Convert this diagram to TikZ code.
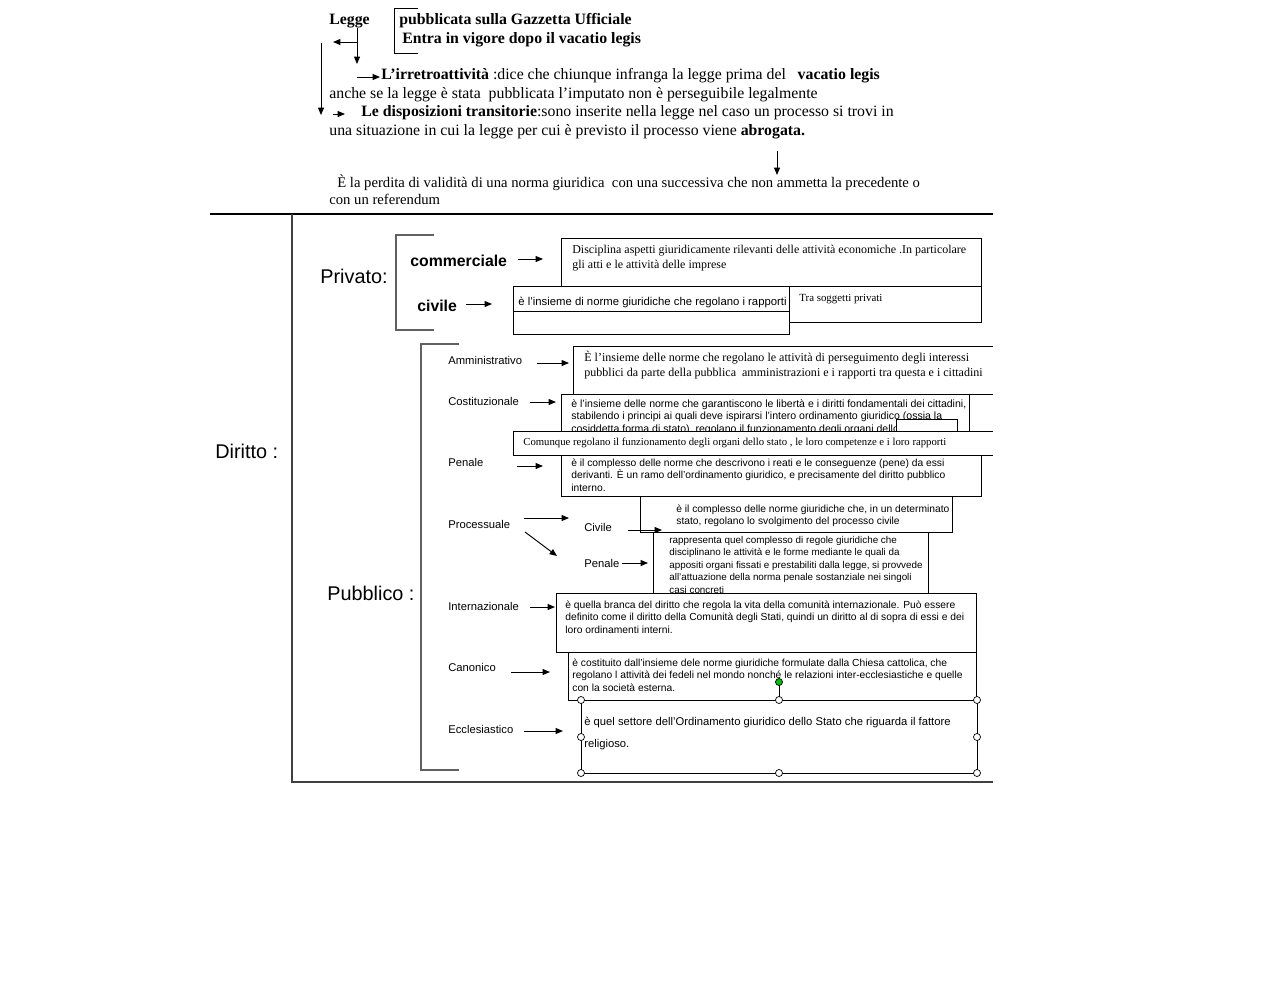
\documentclass[tikz,border=0pt]{standalone}
\usepackage{fontspec}
\setmainfont{Liberation Serif}
\setsansfont{Liberation Sans}
\usetikzlibrary{arrows.meta}

\tikzset{
  box/.style={draw=black, fill=white, line width=0.45pt},
  arr/.style={-{Triangle[length=4.2pt,width=3.4pt]}, line width=0.55pt},
  brk/.style={draw=black!62, line width=0.7pt},
  toptxt/.style={font=\fontsize{9}{10.8}\selectfont, anchor=base west, inner sep=0pt},
  lab/.style={font=\sffamily\fontsize{6.4}{8}\selectfont, anchor=base west, inner sep=0pt},
  big/.style={font=\sffamily\fontsize{11.3}{13}\selectfont, anchor=base west, inner sep=0pt},
  txs/.style={font=\sffamily\fontsize{5.85}{7.1}\selectfont, anchor=base west, inner sep=0pt, align=left},
  txr/.style={font=\fontsize{6.8}{8.5}\selectfont, anchor=base west, inner sep=0pt, align=left},
  handle/.style={circle, draw=black, fill=white, inner sep=0pt, minimum size=4pt, line width=0.4pt},
}

\begin{document}
\begin{tikzpicture}[x=0.02cm,y=-0.02cm]
\useasboundingbox (0,0) rectangle (1280,998);

% --- legge ---
\node[toptxt, font=\bfseries\fontsize{9}{10.8}\selectfont] (legge) at (329,24) {Legge};
\node[toptxt, font=\bfseries\fontsize{9}{10.8}\selectfont] (pubbl) at (399,24) {pubblicata sulla Gazzetta Ufficiale};
\node[toptxt, font=\bfseries\fontsize{9}{10.8}\selectfont] (entra) at (402,43) {Entra in vigore dopo il vacatio legis};
\draw[line width=0.5pt] (418,8)--(394,8)--(394,53)--(418,53);

\coordinate (l1) at (357,28);  \coordinate (l2) at (357,64);
\coordinate (l3) at (357,42);  \coordinate (l4) at (333,42);
\coordinate (l5) at (321,43);  \coordinate (l6) at (321,115);
\coordinate (l7) at (357,77);  \coordinate (l8) at (380,77);
\coordinate (l9) at (333,114); \coordinate (l10) at (345,114);
\draw[arr] (l1)--(l2);
\draw[arr] (l3)--(l4);
\draw[arr] (l5)--(l6);
\draw[arr] (l7)--(l8);
\draw[arr] (l9)--(l10);

\node[toptxt] (irr) at (381,79) {\textbf{L’irretroattività} :dice che chiunque infranga la legge prima del \ \ \textbf{vacatio legis}};
\node[toptxt] (irr2) at (329,98) {anche se la legge è stata \ pubblicata l’imputato non è perseguibile legalmente};
\node[toptxt] (disp) at (361,116) {\textbf{Le disposizioni transitorie}:sono inserite nella legge nel caso un processo si trovi in};
\node[toptxt] (disp2) at (329,135) {una situazione in cui la legge per cui è previsto il processo viene \textbf{abrogata.}};

\coordinate (ab1) at (777,151); \coordinate (ab2) at (777,175);
\draw[arr] (ab1)--(ab2);
\node[toptxt, font=\fontsize{8.35}{10}\selectfont] (perd) at (337,187) {È la perdita di validità di una norma giuridica \ con una successiva che non ammetta la precedente o};
\node[toptxt, font=\fontsize{8.35}{10}\selectfont] (perd2) at (329,204) {con un referendum};

% --- diritto ---
\draw[line width=1.2pt] (210,214)--(993,214);
\draw[brk, draw=black!75] (292,214)--(292,782)--(993,782);
\node[big] (diritto) at (215,458) {Diritto :};
\node[big] (privato) at (320,283) {Privato:};
\node[big] (pubblico) at (327,600) {Pubblico :};

% privato
\draw[brk] (434,235)--(396,235)--(396,330)--(434,330);
\node[lab, font=\sffamily\bfseries\fontsize{9}{11}\selectfont] (comm) at (410,266) {commerciale};
\node[lab, font=\sffamily\bfseries\fontsize{9}{11}\selectfont] (civ) at (417,311) {civile};
\coordinate (c1) at (518,259); \coordinate (c2) at (543,259);
\coordinate (c3) at (466,304); \coordinate (c4) at (492,304);
\draw[arr] (c1)--(c2);
\draw[arr] (c3)--(c4);

\draw[box] (561,238) rectangle (981,286);
\node[txr] (tcomm) at (572,268) {Disciplina aspetti giuridicamente rilevanti delle attività economiche .In particolare\\gli atti e le attività delle imprese};
\draw[box] (513,286) rectangle (789,334);
\draw[line width=0.45pt] (513,311)--(789,311);
\node[txs, font=\sffamily\fontsize{6.45}{7.5}\selectfont] (tciv) at (518,305) {è l'insieme di norme giuridiche che regolano i rapporti};
\draw[box] (789,286) rectangle (981,322);
\node[txr, font=\fontsize{6.2}{7}\selectfont] (tpriv) at (799,301) {Tra soggetti privati};

% pubblico
\draw[brk] (459,344)--(421,344)--(421,770)--(459,770);
\node[lab] (amm) at (448,364) {Amministrativo};
\node[lab] (cost) at (448,405) {Costituzionale};
\node[lab] (pen) at (448,466) {Penale};
\node[lab] (proc) at (448,528) {Processuale};
\node[lab] (pciv) at (584,531) {Civile};
\node[lab] (ppen) at (584,567) {Penale};
\node[lab] (intl) at (448,610) {Internazionale};
\node[lab] (can) at (448,671) {Canonico};
\node[lab] (eccl) at (448,733) {Ecclesiastico};

% amministrativo
\draw[box] (993,346)--(573,346)--(573,394)--(993,394);
\node[txr, font=\fontsize{6.85}{8.5}\selectfont] (tamm) at (584,376) {È l’insieme delle norme che regolano le attività di perseguimento degli interessi\\pubblici da parte della pubblica \ amministrazioni e i rapporti tra questa e i cittadini};

% costituzionale
\draw[box] (561,394) rectangle (969,455);
\node[txs, font=\sffamily\fontsize{6}{7.1}\selectfont] (tcost) at (571,432) {è l'insieme delle norme che garantiscono le libertà e i diritti fondamentali dei cittadini,\\stabilendo i principi ai quali deve ispirarsi l'intero ordinamento giuridico (ossia la\\cosiddetta forma di stato), regolano il funzionamento degli organi dello Stato};
\draw[box] (896,419) rectangle (957,440);
\draw[box] (993,394)--(969,394)--(969,431)--(993,431);
\draw[box] (993,431)--(513,431)--(513,455)--(993,455);
\node[txr, font=\fontsize{6.1}{8}\selectfont] (tcomu) at (523,445) {Comunque regolano il funzionamento degli organi dello stato , le loro competenze e i loro rapporti};

% penale
\draw[box] (561,455) rectangle (981,496);
\node[txs] (tpen) at (571,491) {è il complesso delle norme che descrivono i reati e le conseguenze (pene) da essi\\derivanti. È un ramo dell'ordinamento giuridico, e precisamente del diritto pubblico\\interno.};

% processuale
\draw[box] (640,496) rectangle (952,532);
\node[txs] (tpciv) at (676,524.5) {è il complesso delle norme giuridiche che, in un determinato\\stato, regolano lo svolgimento del processo civile};
\draw[box] (653,532) rectangle (928,600);
\node[txs, font=\sffamily\fontsize{5.6}{7.1}\selectfont] (tppen) at (669,593) {rappresenta quel complesso di regole giuridiche che\\disciplinano le attività e le forme mediante le quali da\\appositi organi fissati e prestabiliti dalla legge, si provvede\\all'attuazione della norma penale sostanziale nei singoli\\casi concreti};

% internazionale
\draw[box] (556,593) rectangle (976,652);
\node[txs] (tintl) at (565,633) {è quella branca del diritto che regola la vita della comunità internazionale. Può essere\\definito come il diritto della Comunità degli Stati, quindi un diritto al di sopra di essi e dei\\loro ordinamenti interni.};

% canonico
\draw[box] (568,652) rectangle (976,700);
\node[txs] (tcan) at (572,691) {è costituito dall'insieme dele norme giuridiche formulate dalla Chiesa cattolica, che\\regolano l attività dei fedeli nel mondo nonché le relazioni inter-ecclesiastiche e quelle\\con la società esterna.};

% ecclesiastico
\draw[box] (581,700) rectangle (977,773);
\node[txs, font=\sffamily\fontsize{6.4}{12.5}\selectfont] (teccl) at (584,747) {è quel settore dell'Ordinamento giuridico dello Stato che riguarda il fattore\\religioso.};
\coordinate (g1) at (779,682); \coordinate (g2) at (779,700);
\draw[line width=0.4pt] (g1)--(g2);
\node[handle, fill=green!75!black] (hg) at (g1) {};
\foreach \p in {(581,700),(779,700),(977,700),(581,737),(977,737),(581,773),(779,773),(977,773)}
  \node[handle] at \p {};

% frecce pubblico
\coordinate (a1) at (537,363);  \coordinate (a2) at (569,363);
\coordinate (a3) at (530,402);  \coordinate (a4) at (556,402);
\coordinate (a5) at (517,466);  \coordinate (a6) at (543,466);
\coordinate (a7) at (524,518);  \coordinate (a8) at (569,518);
\coordinate (a9) at (525,532);  \coordinate (a10) at (557,556);
\coordinate (a11) at (628,530); \coordinate (a12) at (662,530);
\coordinate (a13) at (622,563); \coordinate (a14) at (648,563);
\coordinate (a15) at (530,607); \coordinate (a16) at (555,607);
\coordinate (a17) at (511,672); \coordinate (a18) at (550,672);
\coordinate (a19) at (524,731); \coordinate (a20) at (563,731);
\draw[arr] (a1)--(a2);
\draw[arr] (a3)--(a4);
\draw[arr] (a5)--(a6);
\draw[arr] (a7)--(a8);
\draw[arr] (a9)--(a10);
\draw[arr] (a11)--(a12);
\draw[arr] (a13)--(a14);
\draw[arr] (a15)--(a16);
\draw[arr] (a17)--(a18);
\draw[arr] (a19)--(a20);
\end{tikzpicture}
\end{document}
